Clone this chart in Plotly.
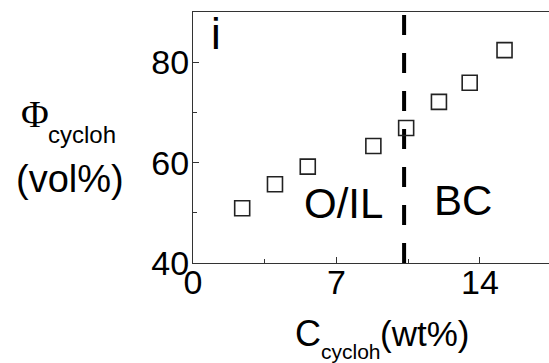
import plotly.graph_objects as go

# Data
c_cycloh = [2.4, 4.0, 5.6, 8.8, 10.4, 12.0, 13.5, 15.2]
phi_cycloh = [50.9, 55.7, 59.2, 63.3, 66.9, 72.1, 75.9, 82.4]
divider_x = [10.3, 10.3]
divider_y = [40, 90]
x_ticks = [0, 7, 14]
y_ticks = [40, 60, 80]

W, H = 549, 363
L, R, T, B = 193, 0, 12, 100
FONT = "Liberation Sans, Arial, sans-serif"

def px(xp):
    return (xp - L) / (W - L - R)

def py(yp):
    return (H - B - yp) / (H - B - T)

fig = go.Figure()
fig.add_trace(go.Scatter(
    x=divider_x, y=divider_y, mode="lines",
    line=dict(color="black", width=4, dash="20px,18px"),
    hoverinfo="skip", showlegend=False))
fig.add_trace(go.Scatter(
    x=c_cycloh, y=phi_cycloh, mode="markers",
    marker=dict(symbol="square-open", size=15, color="#222222",
                line=dict(width=1.6, color="#222222")),
    showlegend=False))

ann = []
def add(text, xp, yp, size, family=FONT):
    ann.append(dict(text=text, x=px(xp), y=py(yp), xref="paper", yref="paper",
                    showarrow=False, xanchor="center", yanchor="middle",
                    font=dict(size=size, family=family, color="black")))

add("i", 216, 33, 44)
add("O/IL", 343, 203, 42)
add("BC", 463, 200, 42)
# x title
add("C", 308, 333, 36)
add("cycloh", 351, 351, 21)
add("(wt%)", 424, 333, 35)
# y title
add("Φ", 35, 114, 38, "Liberation Serif, Times New Roman, serif")
add("cycloh", 82, 134, 24)
add("(vol%)", 70, 179, 38)

fig.update_layout(
    width=W, height=H, margin=dict(l=L, r=R, t=T, b=B, pad=0),
    paper_bgcolor="white", plot_bgcolor="white",
    font=dict(family=FONT, size=33, color="black"),
    annotations=ann,
    xaxis=dict(range=[0, 17.37], tickvals=x_ticks, ticks="inside", ticklen=6,
               tickcolor="#333", showgrid=False, zeroline=False,
               showline=True, linecolor="#333", linewidth=1.2, mirror=True,
               minor=dict(dtick=3.5, tick0=0, ticks="inside", ticklen=4, tickcolor="#333"),
               tickfont=dict(size=34), ticklabelstandoff=-11),
    yaxis=dict(range=[40, 90], tickvals=y_ticks, ticks="inside", ticklen=6,
               tickcolor="#333", showgrid=False, zeroline=False,
               showline=True, linecolor="#333", linewidth=1.2,
               minor=dict(dtick=10, tick0=40, ticks="inside", ticklen=4, tickcolor="#333"),
               tickfont=dict(size=34), ticklabelstandoff=-4),
)

fig.write_html("out.html")
